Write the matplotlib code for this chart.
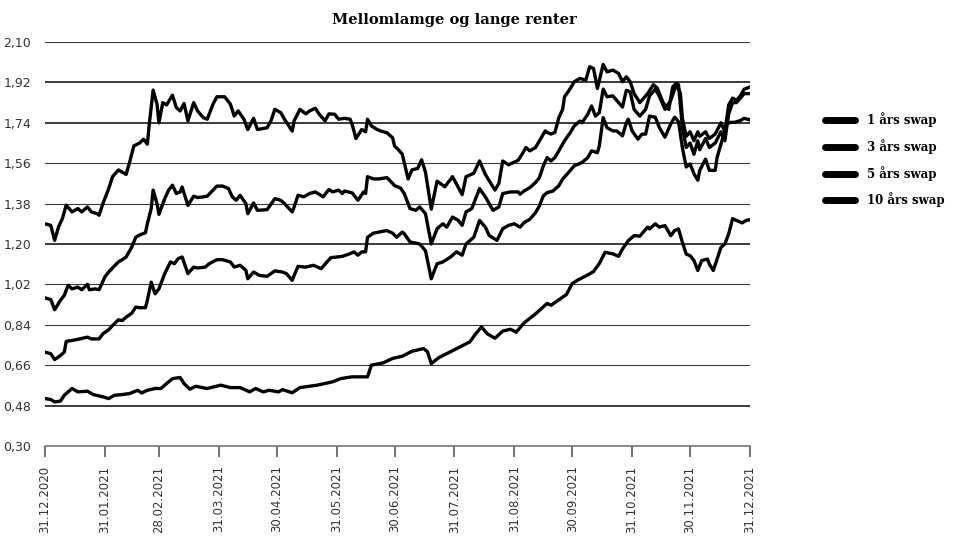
import pandas as pd
import matplotlib
matplotlib.use("Agg")
import matplotlib.pyplot as plt
from matplotlib.lines import Line2D
from matplotlib.ticker import FuncFormatter

# dager etter 31.12.2020 og verdier lest av figuren
d10 = [0, 3, 5, 7, 9, 11, 14, 17, 19, 22, 24, 27, 28, 30, 33, 35, 38, 40, 42, 44, 46, 49, 51, 53,
       54, 55, 56, 58, 59, 61, 63, 66, 68, 70, 72, 74, 77, 79, 82, 84, 87, 89, 93, 96, 98, 100,
       103, 105, 108, 110, 115, 117, 119, 122, 124, 128, 129, 132, 135, 137, 140, 142, 145, 147,
       150, 152, 155, 158, 159, 161, 164, 166, 167, 169, 172, 174, 177, 180, 181, 183, 185, 188,
       190, 193, 195, 197, 200, 203, 207, 211, 216, 218, 222, 225, 228, 233, 235, 237, 240, 245,
       247, 249, 251, 254, 256, 259, 260, 262, 264, 266, 268, 269, 272, 274, 277, 280, 282, 284,
       286, 289, 291, 294, 297, 299, 301, 303, 305, 308, 312, 315, 317, 320, 323, 325, 327, 329,
       330, 332, 334, 336, 338, 339, 342, 344, 347, 350, 352, 354, 356, 358, 360, 362, 365]
v10 = [1.29, 1.283, 1.216, 1.276, 1.313, 1.373, 1.343, 1.358, 1.343, 1.365, 1.343, 1.335, 1.328,
       1.38, 1.447, 1.50, 1.53, 1.52, 1.51, 1.57, 1.637, 1.65, 1.667, 1.645, 1.734, 1.81, 1.886,
       1.823, 1.74, 1.83, 1.82, 1.863, 1.808, 1.793, 1.826, 1.749, 1.83, 1.793, 1.763, 1.756,
       1.823, 1.856, 1.856, 1.823, 1.77, 1.793, 1.756, 1.71, 1.76, 1.71, 1.718, 1.749, 1.80,
       1.786, 1.756, 1.703, 1.749, 1.80, 1.78, 1.793, 1.805, 1.778, 1.749, 1.78, 1.778, 1.756,
       1.76, 1.756, 1.734, 1.67, 1.71, 1.70, 1.756, 1.726, 1.71, 1.703, 1.696, 1.673, 1.636,
       1.62, 1.60, 1.49, 1.53, 1.537, 1.575, 1.52, 1.355, 1.48, 1.455, 1.50, 1.42, 1.50, 1.515,
       1.57, 1.51, 1.44, 1.47, 1.57, 1.553, 1.573, 1.60, 1.63, 1.615, 1.63, 1.66, 1.704, 1.697,
       1.69, 1.697, 1.762, 1.80, 1.856, 1.893, 1.923, 1.938, 1.93, 1.99, 1.982, 1.893, 2.0,
       1.967, 1.975, 1.96, 1.923, 1.945, 1.923, 1.87, 1.83, 1.87, 1.91, 1.895, 1.83, 1.80, 1.90,
       1.917, 1.87, 1.76, 1.68, 1.70, 1.66, 1.70, 1.68, 1.70, 1.67, 1.69, 1.74, 1.70, 1.82,
       1.85, 1.84, 1.86, 1.89, 1.90]

d5 = [0, 3, 5, 8, 10, 12, 14, 17, 19, 22, 23, 26, 28, 31, 33, 35, 38, 40, 42, 45, 47, 49, 52, 53,
      55, 56, 58, 59, 62, 64, 66, 68, 70, 71, 74, 77, 79, 82, 84, 87, 89, 92, 95, 97, 99, 101,
      104, 105, 108, 110, 115, 119, 122, 124, 128, 129, 131, 134, 137, 140, 144, 147, 149, 152,
      154, 155, 159, 162, 165, 166, 167, 170, 173, 177, 180, 181, 184, 186, 189, 192, 194, 197,
      200, 203, 206, 208, 211, 214, 216, 218, 221, 225, 228, 232, 235, 237, 241, 245, 246, 248,
      251, 254, 256, 258, 260, 262, 264, 267, 269, 272, 274, 277, 278, 281, 283, 285, 287, 289,
      291, 294, 296, 299, 301, 303, 305, 308, 311, 313, 316, 318, 321, 324, 326, 328, 330, 332,
      334, 336, 338, 339, 342, 344, 347, 350, 352, 354, 356, 358, 360, 362, 365]
v5 = [0.96, 0.952, 0.907, 0.949, 0.971, 1.016, 1.0, 1.008, 0.996, 1.02, 0.996, 1.0, 0.996, 1.053,
      1.075, 1.094, 1.12, 1.13, 1.142, 1.187, 1.23, 1.24, 1.25, 1.29, 1.358, 1.44, 1.38, 1.332,
      1.402, 1.44, 1.462, 1.425, 1.432, 1.454, 1.372, 1.413, 1.407, 1.41, 1.413, 1.44, 1.458,
      1.458, 1.447, 1.41, 1.395, 1.417, 1.38, 1.335, 1.383, 1.35, 1.353, 1.402, 1.395, 1.38,
      1.343, 1.365, 1.417, 1.41, 1.425, 1.432, 1.41, 1.443, 1.432, 1.44, 1.425, 1.436, 1.428,
      1.395, 1.432, 1.425, 1.50, 1.49, 1.49, 1.496, 1.47, 1.46, 1.45, 1.425, 1.358, 1.35, 1.365,
      1.335, 1.20, 1.268, 1.29, 1.275, 1.32, 1.305, 1.283, 1.343, 1.358, 1.447, 1.41, 1.35,
      1.365, 1.425, 1.432, 1.432, 1.422, 1.436, 1.451, 1.474, 1.496, 1.548, 1.585, 1.57, 1.585,
      1.63, 1.66, 1.697, 1.726, 1.748, 1.74, 1.778, 1.815, 1.77, 1.785, 1.89, 1.856, 1.86,
      1.84, 1.81, 1.885, 1.878, 1.80, 1.77, 1.80, 1.86, 1.89, 1.86, 1.80, 1.84, 1.89, 1.91,
      1.72, 1.63, 1.65, 1.60, 1.66, 1.62, 1.67, 1.63, 1.65, 1.70, 1.66, 1.78, 1.83, 1.83, 1.85,
      1.87, 1.87]

d3 = [0, 3, 5, 8, 10, 11, 14, 18, 22, 24, 28, 30, 33, 35, 38, 40, 42, 45, 47, 49, 52, 53, 55, 57,
      59, 61, 62, 65, 67, 69, 71, 74, 77, 79, 83, 85, 89, 92, 96, 98, 101, 104, 105, 108, 111,
      115, 119, 123, 125, 128, 129, 131, 135, 139, 143, 146, 148, 151, 154, 158, 160, 162, 164,
      166, 167, 170, 173, 177, 180, 182, 185, 186, 189, 192, 194, 197, 200, 203, 206, 210, 213,
      216, 218, 222, 225, 228, 230, 234, 237, 240, 243, 246, 248, 251, 254, 256, 258, 260, 263,
      266, 268, 271, 274, 278, 281, 283, 286, 287, 289, 291, 294, 296, 299, 301, 302, 304, 307,
      309, 311, 313, 316, 318, 321, 324, 326, 328, 330, 332, 334, 336, 338, 339, 342, 344, 347,
      348, 351, 353, 355, 357, 360, 362, 365]
v3 = [0.718, 0.711, 0.685, 0.703, 0.718, 0.766, 0.77, 0.777, 0.785, 0.777, 0.777, 0.80, 0.818,
      0.837, 0.862, 0.859, 0.874, 0.892, 0.919, 0.916, 0.916, 0.949, 1.03, 0.978, 1.0, 1.045,
      1.068, 1.12, 1.112, 1.135, 1.142, 1.068, 1.097, 1.093, 1.097, 1.112, 1.13, 1.13, 1.12,
      1.097, 1.105, 1.083, 1.045, 1.075, 1.06, 1.056, 1.08, 1.075, 1.068, 1.038, 1.06, 1.10,
      1.097, 1.105, 1.09, 1.12, 1.139, 1.142, 1.145, 1.157, 1.165, 1.15, 1.165, 1.165, 1.23,
      1.248, 1.253, 1.26, 1.248, 1.23, 1.253, 1.246, 1.209, 1.204, 1.20, 1.17, 1.045, 1.112,
      1.12, 1.142, 1.165, 1.15, 1.20, 1.23, 1.305, 1.275, 1.238, 1.216, 1.268, 1.283, 1.29,
      1.275, 1.295, 1.31, 1.34, 1.37, 1.414, 1.429, 1.436, 1.459, 1.489, 1.518, 1.548, 1.563,
      1.585, 1.615, 1.607, 1.637, 1.763, 1.718, 1.704, 1.704, 1.682, 1.74, 1.756, 1.704, 1.667,
      1.689, 1.69, 1.77, 1.765, 1.72, 1.676, 1.735, 1.765, 1.745, 1.63, 1.543, 1.557, 1.513,
      1.484, 1.528, 1.578, 1.528, 1.528, 1.586, 1.676, 1.735, 1.742, 1.742, 1.75, 1.76, 1.753]

d1 = [0, 3, 5, 8, 10, 14, 17, 22, 25, 30, 33, 36, 40, 44, 48, 50, 53, 57, 60, 62, 66, 70, 72, 75,
      78, 84, 91, 96, 101, 106, 109, 113, 116, 121, 123, 128, 132, 141, 149, 153, 159, 167, 169,
      175, 180, 185, 190, 196, 198, 200, 204, 210, 215, 220, 223, 226, 229, 233, 237, 241, 244,
      248, 254, 260, 262, 267, 270, 273, 276, 281, 284, 287, 290, 294, 297, 299, 302, 305, 308,
      312, 313, 316, 318, 321, 324, 326, 328, 330, 332, 334, 336, 338, 340, 343, 344, 346, 348,
      350, 352, 354, 356, 358, 361, 363, 365]
v1 = [0.511, 0.507, 0.496, 0.50, 0.526, 0.556, 0.541, 0.544, 0.529, 0.519, 0.511, 0.526, 0.529,
      0.534, 0.548, 0.536, 0.548, 0.556, 0.556, 0.571, 0.60, 0.605, 0.578, 0.553, 0.566, 0.556,
      0.571, 0.56, 0.56, 0.541, 0.556, 0.541, 0.548, 0.541, 0.551, 0.537, 0.56, 0.571, 0.586,
      0.60, 0.608, 0.608, 0.66, 0.67, 0.69, 0.70, 0.722, 0.734, 0.72, 0.667, 0.694, 0.72, 0.742,
      0.764, 0.80, 0.83, 0.80, 0.78, 0.812, 0.82, 0.807, 0.848, 0.889, 0.935, 0.927, 0.957,
      0.975, 1.024, 1.04, 1.062, 1.077, 1.113, 1.163, 1.156, 1.145, 1.178, 1.215, 1.237, 1.235,
      1.275, 1.267, 1.29, 1.275, 1.282, 1.237, 1.26, 1.267, 1.208, 1.155, 1.148, 1.126, 1.082,
      1.126, 1.133, 1.11, 1.082, 1.133, 1.185, 1.20, 1.245, 1.313, 1.305, 1.294, 1.305, 1.308]

labels = ["1 års swap", "3 års swap", "5 års swap", "10 års swap"]
yticks = [0.30, 0.48, 0.66, 0.84, 1.02, 1.20, 1.38, 1.56, 1.74, 1.92, 2.10]
xticks = ["2020-12-31", "2021-01-31", "2021-02-28", "2021-03-31", "2021-04-30", "2021-05-31",
          "2021-06-30", "2021-07-31", "2021-08-31", "2021-09-30", "2021-10-31", "2021-11-30",
          "2021-12-31"]

start = pd.Timestamp("2020-12-31")


def to_dates(days):
    return start + pd.to_timedelta(days, unit="D")


fig = plt.figure(figsize=(9.61, 5.36), dpi=100)
ax = fig.add_axes([0.0468, 0.168, 0.7336, 0.7536])

# rutenett
for y in yticks[1:]:
    lw = 1.4 if y in (0.48, 1.20, 1.74, 1.92) else 0.8
    ax.axhline(y, color="#3a3a3a", lw=lw, zorder=1)

for d, v in [(d1, v1), (d3, v3), (d5, v5), (d10, v10)]:
    ax.plot(to_dates(d), v, color="black", lw=2.4, solid_joinstyle="round", zorder=3)

ax.set_ylim(0.30, 2.10)
ax.set_xlim(start, pd.Timestamp("2021-12-31"))
ax.set_yticks(yticks)
ax.yaxis.set_major_formatter(FuncFormatter(lambda v, p: f"{v:.2f}".replace(".", ",")))
xt = pd.to_datetime(xticks)
ax.set_xticks(xt)
ax.set_xticklabels([t.strftime("%d.%m.%Y") for t in xt], rotation=90)

for s in ["top", "right", "left"]:
    ax.spines[s].set_visible(False)
ax.spines["bottom"].set_color("#777777")
ax.spines["bottom"].set_linewidth(1.2)
ax.tick_params(axis="y", length=0, pad=10, labelsize=9, labelcolor="#333333")
ax.tick_params(axis="x", direction="out", length=8, width=1.3, color="#666666",
               pad=6, labelsize=8.5, labelcolor="#333333")
for lab in ax.get_xticklabels() + ax.get_yticklabels():
    lab.set_family(["Liberation Sans Narrow", "DejaVu Sans"])

fig.text(0.473, 0.962, "Mellomlamge og lange renter", ha="center", va="center",
         fontsize=10.5, family="DejaVu Serif", fontweight="bold")

handles = [Line2D([], [], color="black", lw=5, solid_capstyle="round") for _ in labels]
fig.legend(handles, labels, loc="upper left", bbox_to_anchor=(0.847, 0.81),
           frameon=False, handlelength=2.6, handletextpad=1.0, labelspacing=1.0,
           prop={"family": "DejaVu Serif", "weight": "bold", "size": 8.5})

fig.savefig("out.png", dpi=100)
